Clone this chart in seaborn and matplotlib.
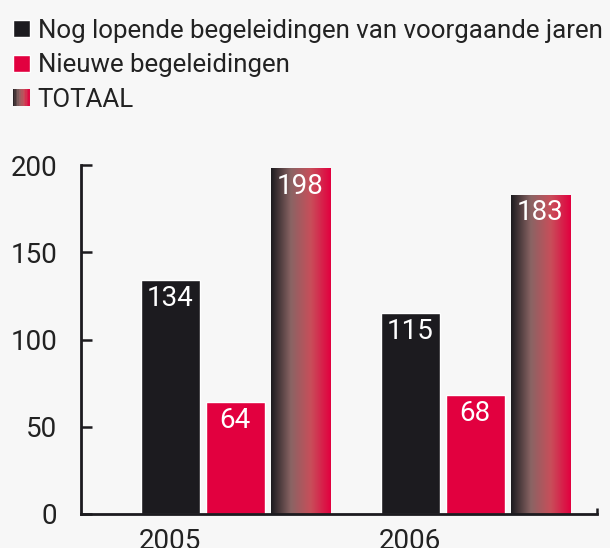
import numpy as np
import pandas as pd
import matplotlib
matplotlib.use("Agg")
import matplotlib.pyplot as plt
import seaborn as sns
from matplotlib.colors import LinearSegmentedColormap
from matplotlib.patches import Rectangle
from matplotlib.legend_handler import HandlerBase

# --- DATA ---
years = ["2005", "2006"]
series = ["Nog lopende begeleidingen van voorgaande jaren", "Nieuwe begeleidingen", "TOTAAL"]
lopend = [134, 115]
nieuw = [64, 68]
totaal = [198, 183]
y_ticks = [0, 50, 100, 150, 200]

BG = "#f7f7f7"
BLACK = "#1c1b1f"
RED = "#e2003f"
GRAD = LinearSegmentedColormap.from_list("tot", [BLACK, "#8a6464", "#c84e5a", RED])
FONT = "Roboto"
FS = 20

df = pd.DataFrame({
    "jaar": years * 3,
    "reeks": [s for s in series for _ in years],
    "aantal": lopend + nieuw + totaal,
})

sns.set_theme(style="ticks")
plt.rcParams["font.family"] = [FONT, "DejaVu Sans"]
plt.rcParams["text.color"] = "#222222"

fig = plt.figure(figsize=(6.1, 5.48), dpi=100, facecolor=BG)
ax = fig.add_axes([81 / 610, 34 / 548, 516 / 610, 349 / 548], facecolor=BG)

sns.barplot(data=df, x="jaar", y="aantal", hue="reeks", hue_order=series,
            palette=[BLACK, RED, "#808080"], width=0.8125, gap=0.092,
            saturation=1, legend=False, ax=ax)

# gradient fill for TOTAAL bars
grad = np.linspace(0, 1, 256).reshape(1, -1)
for bar in ax.containers[2]:
    bar.set_facecolor("none")
    x0, w, h = bar.get_x(), bar.get_width(), bar.get_height()
    im = ax.imshow(grad, cmap=GRAD, aspect="auto", extent=[x0, x0 + w, 0, h], zorder=bar.get_zorder())
    im.set_clip_path(bar)

# value labels inside the top of the bars
for cont in ax.containers:
    for bar in cont:
        ax.text(bar.get_x() + bar.get_width() / 2, bar.get_height() - 2.5,
                f"{int(bar.get_height())}", color="white", ha="center", va="top",
                fontsize=FS)

ax.set_xlim(-0.642, 1.508)
ax.set_ylim(0, 200)
ax.set_yticks(y_ticks)
black_x = [b.get_x() + b.get_width() / 2 for b in ax.containers[0]]
ax.set_xticks(black_x, years)
ax.set_xticks([1.508], minor=True)
ax.set_xlabel("")
ax.set_ylabel("")
for s in ["top", "right"]:
    ax.spines[s].set_visible(False)
for s in ["left", "bottom"]:
    ax.spines[s].set_linewidth(2)
    ax.spines[s].set_color("#1c1b1f")
ax.tick_params(axis="y", direction="in", length=8, width=1.8, pad=17, labelsize=FS, colors="#1c1b1f", labelcolor="#222222")
ax.tick_params(axis="x", which="major", length=0, pad=10, labelsize=FS, labelcolor="#222222")
ax.tick_params(axis="x", which="minor", direction="in", length=4, width=1.8, colors="#1c1b1f")


class GradHandler(HandlerBase):
    def create_artists(self, legend, orig, xd, yd, w, h, fs, trans):
        arts = []
        n = 12
        for i in range(n):
            r = Rectangle((-xd + w * i / n, -yd), w / n + 0.3, h,
                          facecolor=GRAD((i + 0.5) / n), edgecolor="none", transform=trans)
            arts.append(r)
        return arts


handles = [Rectangle((0, 0), 1, 1, facecolor=BLACK), Rectangle((0, 0), 1, 1, facecolor=RED),
           Rectangle((0, 0), 1, 1, facecolor="none")]
fig.legend(handles, series, handler_map={handles[2]: GradHandler()},
           loc="upper left", bbox_to_anchor=(13 / 610, 1 - 19 / 548), frameon=False,
           fontsize=18.6, handlelength=0.64, handleheight=0.64, handletextpad=0.32,
           labelspacing=0.4, borderpad=0, borderaxespad=0)

fig.savefig("out.png", dpi=100, facecolor=BG)
